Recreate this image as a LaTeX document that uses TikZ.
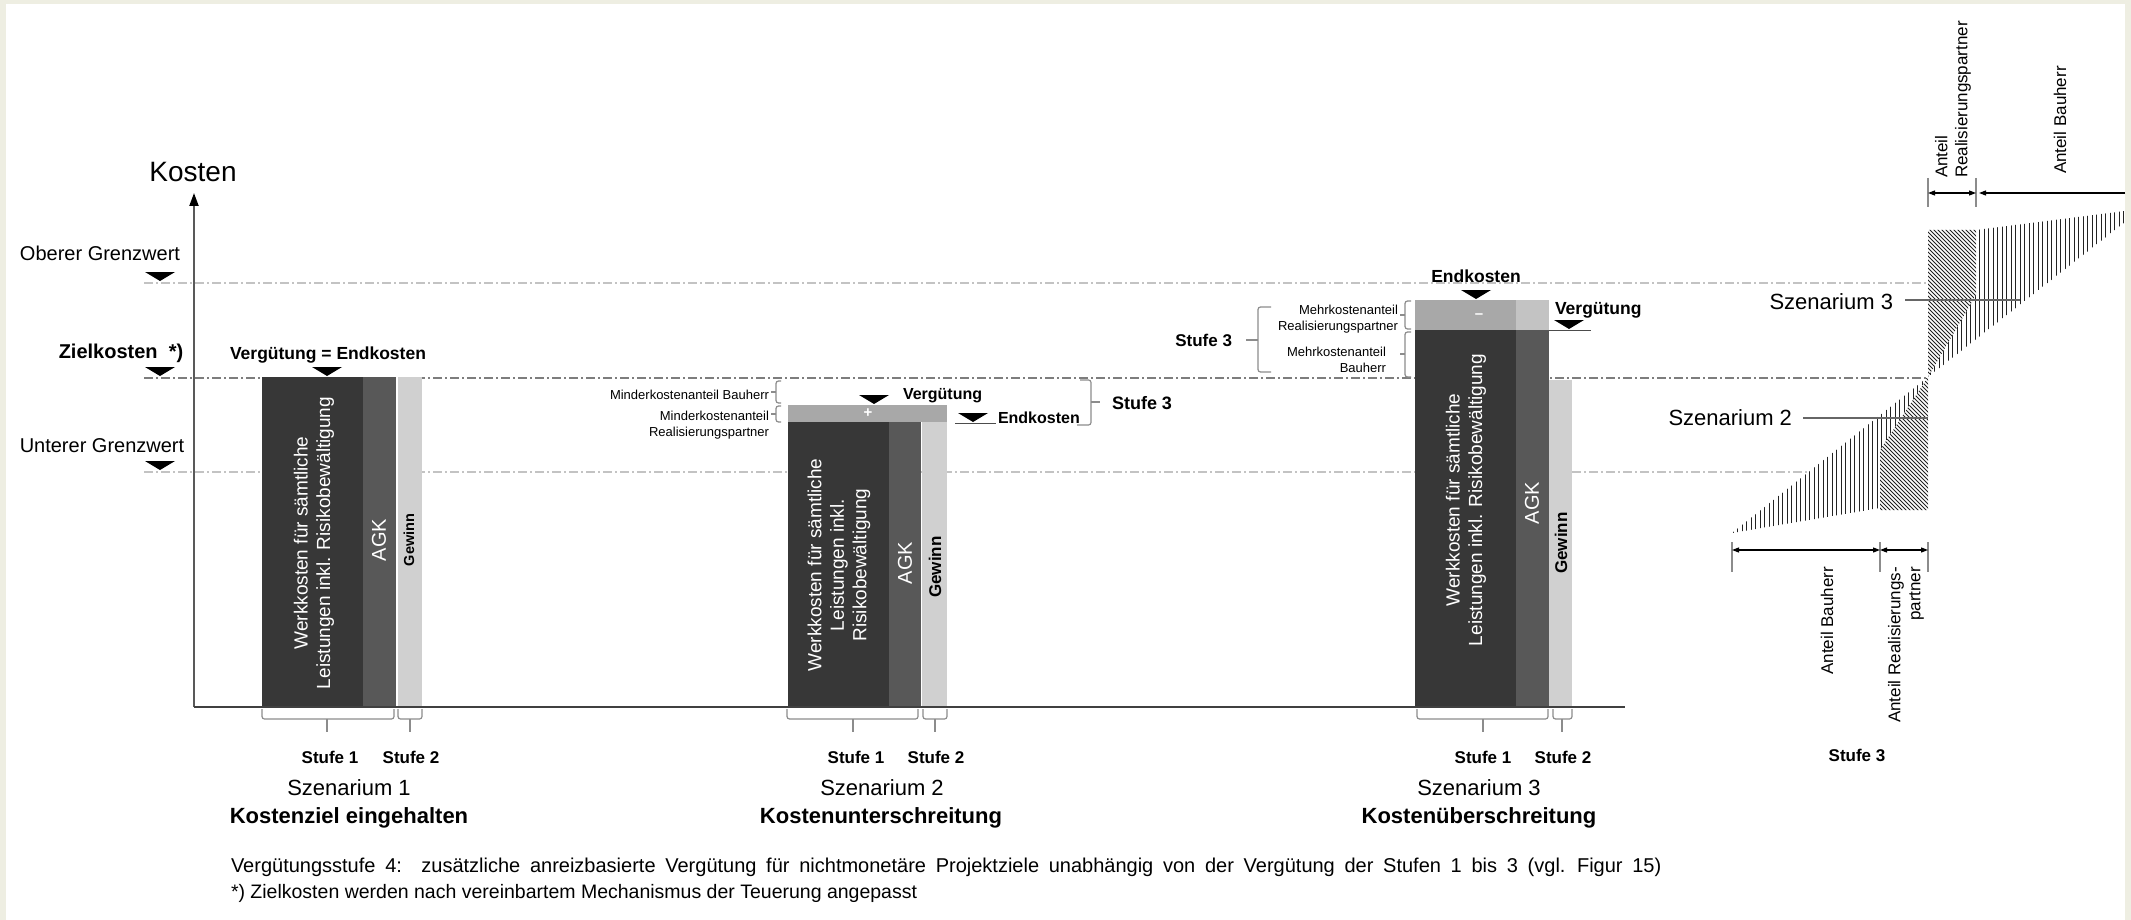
\documentclass[tikz,border=0pt]{standalone}
\usepackage{fontspec}
\setmainfont{Liberation Sans}
\newfontfamily\fnwide[WordSpace=1.75]{Liberation Sans}
\usetikzlibrary{arrows.meta}
\definecolor{cream}{RGB}{238,238,226}
\definecolor{werk}{RGB}{55,55,55}
\definecolor{agk}{RGB}{88,88,88}
\definecolor{gew}{RGB}{208,208,208}
\definecolor{pbar}{RGB}{168,168,168}
\definecolor{pbarl}{RGB}{195,195,195}
\definecolor{guide}{RGB}{195,195,195}
\definecolor{zguide}{RGB}{125,125,125}
\definecolor{brc}{RGB}{140,140,140}
\definecolor{hatchc}{RGB}{35,35,35}
\newcommand{\mkTri}[2]{\fill[black] ({#1-15},{#2}) -- ({#1+15},{#2}) -- ({#1},{#2+9}) -- cycle;}
\tikzset{
  txt/.style={inner sep=0pt, outer sep=0pt},
  lab/.style={txt, font=\fontsize{20}{24}\selectfont},
  blab/.style={txt, font=\fontsize{17.5}{21}\selectfont\bfseries},
  slab/.style={txt, font=\fontsize{13}{16.5}\selectfont},
  stufe/.style={txt, font=\fontsize{17}{20}\selectfont\bfseries},
  szen/.style={txt, font=\fontsize{22}{26}\selectfont},
  szenb/.style={txt, font=\fontsize{22}{26}\selectfont\bfseries},
  bartxt/.style={txt, text=white, rotate=90, align=center, font=\fontsize{19}{22.5}\selectfont},
  agktxt/.style={txt, text=white, rotate=90, font=\fontsize{20}{24}\selectfont},
  gewtxt/.style={txt, text=black, rotate=90, font=\fontsize{17}{20}\selectfont\bfseries},
  dimtxt/.style={txt, rotate=90, font=\fontsize{17}{20}\selectfont},
  gline/.style={guide, line width=1.2pt, dash pattern=on 9pt off 3pt on 2pt off 3pt},
  zline/.style={zguide, line width=1.3pt, dash pattern=on 9pt off 3pt on 2pt off 3pt},
  brline/.style={brc, line width=1.2pt, rounded corners=2.5pt},
  hatchl/.style={hatchc, line width=0.85pt},
  dimline/.style={black, line width=1.1pt},
  extline/.style={brc, line width=1.1pt},
  leader/.style={black!60, line width=1.2pt}
}
\begin{document}
\begin{tikzpicture}[x=1pt,y=-1pt]
\useasboundingbox (0,0) rectangle (2131,920);
\fill[cream] (0,0) rectangle (2131,920);
\fill[white] (6,4) rectangle (2125,920);

% ---------- guide lines
\draw[gline] (144,283) -- (1928,283);
\draw[zline] (144,378) -- (1928,378);
\draw[gline] (144,472) -- (1809,472);

% ---------- left labels
\node[txt, font=\fontsize{28}{32}\selectfont] (kosten) at (193,172) {Kosten};
\node[lab] (ober) at (100,253) {Oberer Grenzwert};
\node[lab, font=\fontsize{20}{24}\selectfont\bfseries] (ziel) at (121,353) {Zielkosten\ \ *)};
\node[lab] (unter) at (102,446) {Unterer Grenzwert};
\mkTri{160}{272}
\mkTri{160}{367}
\mkTri{160}{461}

% ---------- scenario 1
\fill[werk] (262,377) rectangle (363,707);
\fill[agk] (363,377) rectangle (396,707);
\fill[gew] (398,377) rectangle (422,707);
\node[bartxt] (w1) at (314,543) {Werkkosten für sämtliche\\Leistungen inkl. Risikobewältigung};
\node[agktxt] (a1) at (379,540) {AGK};
\node[gewtxt, font=\fontsize{14.5}{17}\selectfont\bfseries] (g1) at (409,540) {Gewinn};
\node[blab] (ve1) at (328,355) {Vergütung = Endkosten};
\mkTri{327}{367}
\draw[brline] (262,709) -- (262,719) -- (394,719) -- (394,709);
\draw[brline] (327,719) -- (327,732);
\draw[brline] (398,709) -- (398,719) -- (422,719) -- (422,709);
\draw[brline] (410,719) -- (410,732);
\node[stufe] (s11) at (330,757) {Stufe 1};
\node[stufe] (s12) at (411,757) {Stufe 2};
\node[szen] (sz1) at (349,788) {Szenarium 1};
\node[szenb] (sz1b) at (349,818) {Kostenziel eingehalten};

% ---------- scenario 2
\fill[pbar] (788,405) rectangle (947,422);
\fill[werk] (788,422) rectangle (889,707);
\fill[agk] (889,422) rectangle (921,707);
\fill[gew] (922,422) rectangle (947,707);
\node[txt, text=white, font=\fontsize{15}{15}\selectfont\bfseries] (plus) at (868,413) {+};
\node[bartxt] (w2) at (839,565) {Werkkosten für sämtliche\\Leistungen inkl.\\Risikobewältigung};
\node[agktxt] (a2) at (905,563) {AGK};
\node[gewtxt] (g2) at (935,567) {Gewinn};
\node[slab, anchor=east] (mb2) at (769,395) {Minderkostenanteil Bauherr};
\node[slab, anchor=east, align=right] (mr2) at (769,425) {Minderkostenanteil\\Realisierungspartner};
\draw[brline] (781,381) -- (776,381) -- (776,403) -- (781,403);
\draw[brline] (776,392) -- (771,392);
\draw[brline] (781,406) -- (776,406) -- (776,422) -- (781,422);
\draw[brline] (776,414) -- (771,414);
\node[blab, anchor=west, font=\fontsize{16}{19}\selectfont\bfseries] (v2) at (903,396) {Vergütung};
\mkTri{874}{395}
\node[blab, anchor=west, font=\fontsize{16}{19}\selectfont\bfseries] (e2) at (998,418) {Endkosten};
\mkTri{973}{413}
\draw[black!70, line width=1pt] (955,423) -- (996,423);
\draw[brline] (1080,380) -- (1091,380) -- (1091,425) -- (1077,425);
\draw[brline] (1091,402) -- (1100,402);
\node[stufe, anchor=west, font=\fontsize{18}{21}\selectfont\bfseries] (st32) at (1112,403) {Stufe 3};
\draw[brline] (787,709) -- (787,719) -- (918,719) -- (918,709);
\draw[brline] (853,719) -- (853,732);
\draw[brline] (923,709) -- (923,719) -- (947,719) -- (947,709);
\draw[brline] (935,719) -- (935,732);
\node[stufe] (s21) at (856,757) {Stufe 1};
\node[stufe] (s22) at (936,757) {Stufe 2};
\node[szen] (sz2) at (882,788) {Szenarium 2};
\node[szenb] (sz2b) at (881,818) {Kostenunterschreitung};

% ---------- scenario 3
\fill[pbar] (1415,300) rectangle (1516,330);
\fill[pbarl] (1516,300) rectangle (1549,330);
\fill[werk] (1415,330) rectangle (1516,707);
\fill[agk] (1516,330) rectangle (1549,707);
\fill[gew] (1549,380) rectangle (1572,707);
\node[txt, text=white, font=\fontsize{15}{15}\selectfont\bfseries] (minus) at (1479,316) {–};
\node[bartxt] (w3) at (1466,500) {Werkkosten für sämtliche\\Leistungen inkl. Risikobewältigung};
\node[agktxt] (a3) at (1532,503) {AGK};
\node[gewtxt] (g3) at (1561,543) {Gewinn};
\node[blab] (e3) at (1476,276) {Endkosten};
\mkTri{1476}{290}
\node[blab, anchor=west] (v3) at (1555,310) {Vergütung};
\mkTri{1569}{320}
\draw[black!70, line width=1pt] (1549,330) -- (1591,330);
\node[slab, anchor=east, align=right] (mr3) at (1398,319) {Mehrkostenanteil\\Realisierungspartner};
\node[slab, anchor=east, align=right] (mb3) at (1386,360) {Mehrkostenanteil\\Bauherr};
\draw[brline] (1411,301) -- (1405,301) -- (1405,329) -- (1411,329);
\draw[brline] (1405,315) -- (1400,315);
\draw[brline] (1411,332) -- (1405,332) -- (1405,377) -- (1411,377);
\draw[brline] (1405,354) -- (1400,354);
\draw[brline] (1271,307) -- (1258,307) -- (1258,372) -- (1271,372);
\draw[brline] (1258,340) -- (1246,340);
\node[stufe, anchor=east] (st33) at (1232,340) {Stufe 3};
\draw[brline] (1417,709) -- (1417,719) -- (1548,719) -- (1548,709);
\draw[brline] (1483,719) -- (1483,732);
\draw[brline] (1553,709) -- (1553,719) -- (1572,719) -- (1572,709);
\draw[brline] (1562,719) -- (1562,732);
\node[stufe] (s31) at (1483,757) {Stufe 1};
\node[stufe] (s32) at (1563,757) {Stufe 2};
\node[szen] (sz3) at (1479,788) {Szenarium 3};
\node[szenb] (sz3b) at (1479,818) {Kostenüberschreitung};

% ---------- axes
\coordinate (O) at (194,707);
\coordinate (ytop) at (194,193);
\coordinate (xend) at (1625,707);
\draw[black!65, line width=2pt, -{Triangle[length=13pt,width=9pt,black]}] (O) -- (ytop);
\draw[black!75, line width=1.6pt] (O) -- (xend);

% ---------- hatched sharing diagram
\begin{scope}
\clip (1928,230) -- (1976,230) -- (1976,295) -- (1928,377) -- cycle;
\foreach \k in {-110,-106,...,150} \draw[hatchl] ({1830+\k},200) -- ({2030+\k},400);
\end{scope}
\begin{scope}
\clip (1928,377) -- (1976,295) -- (1976,230) -- (2125,211) -- (2125,222) -- cycle;
\foreach \k in {1930,1934.5,...,2125} \draw[hatchl] (\k,200) -- (\k,400);
\end{scope}
\begin{scope}
\clip (1880,450) -- (1928,377) -- (1928,510) -- (1880,510) -- cycle;
\foreach \k in {-110,-106,...,150} \draw[hatchl] ({1780+\k},350) -- ({1980+\k},550);
\end{scope}
\begin{scope}
\clip (1928,377) -- (1732,533) -- (1880,508) -- (1880,450) -- cycle;
\foreach \k in {1733,1737.5,...,1928} \draw[hatchl] (\k,350) -- (\k,560);
\end{scope}

\node[szen, anchor=east] (szr3) at (1893,302) {Szenarium 3};
\coordinate (l3a) at (1905,300);
\coordinate (l3b) at (2020,300);
\draw[leader] (l3a) -- (l3b);
\node[szen, anchor=east] (szr2) at (1792,418) {Szenarium 2};
\coordinate (l2a) at (1803,418);
\coordinate (l2b) at (1928,418);
\draw[leader] (l2a) -- (l2b);

% top dimension
\coordinate (d1) at (1928,193);
\coordinate (d2) at (1976,193);
\coordinate (d3) at (1979,193);
\coordinate (d4) at (2125,193);
\draw[extline] (1928,178) -- (1928,207);
\draw[extline] (1976,178) -- (1976,207);
\draw[dimline, {Triangle[length=7pt,width=5pt]}-{Triangle[length=7pt,width=5pt]}] (d1) -- (d2);
\draw[dimline, -{Triangle[length=7pt,width=5pt]}] (d4) -- (d3);
\node[dimtxt, anchor=west, align=left] (arp) at (1953,178) {Anteil\\Realisierungspartner};
\node[dimtxt, anchor=west] (abh) at (2060,174) {Anteil Bauherr};

% bottom dimension
\coordinate (b1) at (1732,550);
\coordinate (b2) at (1880,550);
\coordinate (b3) at (1928,550);
\draw[extline] (1732,542) -- (1732,572);
\draw[extline] (1880,542) -- (1880,572);
\draw[extline] (1928,542) -- (1928,572);
\draw[dimline, {Triangle[length=7pt,width=5pt]}-{Triangle[length=7pt,width=5pt]}] (b1) -- (b2);
\draw[dimline, {Triangle[length=7pt,width=5pt]}-{Triangle[length=7pt,width=5pt]}] (b2) -- (b3);
\node[dimtxt, anchor=east] (abh2) at (1827,567) {Anteil Bauherr};
\node[dimtxt, anchor=east, align=right] (arp2) at (1906,567) {Anteil Realisierungs-\\partner};
\node[stufe] (st3r) at (1857,755) {Stufe 3};

% ---------- footnotes
\node[txt, anchor=west, font=\fnwide\fontsize{20}{23}\selectfont] (fn1) at (231,867) {Vergütungsstufe 4:\ \ zusätzliche anreizbasierte Vergütung für nichtmonetäre Projektziele unabhängig von der Vergütung der Stufen 1 bis 3 (vgl. Figur 15)};
\node[txt, anchor=west, font=\fontsize{19.5}{23}\selectfont] (fn2) at (231,893) {*) Zielkosten werden nach vereinbartem Mechanismus der Teuerung angepasst};
\end{tikzpicture}
\end{document}
